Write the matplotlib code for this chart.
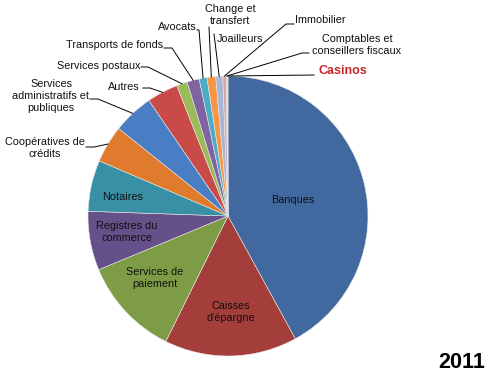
import numpy as np
import matplotlib
matplotlib.use("Agg")
import matplotlib.pyplot as plt

categories = ["Banques", "Caisses d'épargne", "Services de paiement", "Registres du commerce",
              "Notaires", "Coopératives de crédits", "Services administratifs et publiques",
              "Autres", "Services postaux", "Transports de fonds", "Avocats",
              "Change et transfert", "Joailleurs", "Immobilier",
              "Comptables et conseillers fiscaux", "Casinos"]
values = [42.0, 15.3, 11.4, 6.8, 5.9, 4.3, 4.7, 3.6, 1.25, 1.4, 0.9, 1.0, 0.8, 0.4, 0.15, 0.05]
colors = ["#4268A0", "#A33E3B", "#7E9C45", "#65508A", "#3990A6", "#E07B2E",
          "#4A7EC4", "#C84B48", "#9BBB59", "#8064A2", "#4BACC6", "#F79646",
          "#AAB5D6", "#D6A9A8", "#C3D69B", "#B3A2C7"]
year = "2011"

W, H = 499, 383
CX, CY, R = 228, 216, 140
plt.rcParams['font.family'] = ['Liberation Sans', 'DejaVu Sans']

fig = plt.figure(figsize=(W / 100, H / 100), dpi=100)
ax = fig.add_axes([(CX - R) / W, (H - CY - R) / H, 2 * R / W, 2 * R / H])
wedges, _ = ax.pie(values, colors=colors, startangle=90, counterclock=False,
                   radius=1, wedgeprops=dict(linewidth=0.4, edgecolor="#e8e8e8"))
ax.set_xlim(-1, 1)
ax.set_ylim(-1, 1)
ax.set_aspect('equal')
ax.axis('off')

def d(px, py):
    return (px - CX) / R, (CY - py) / R

fs = 7.8
ls = 1.2
inside = {
    0: ("Banques", 293, 200),
    1: ("Caisses\nd'épargne", 231, 312),
    2: ("Services de\npaiement", 155, 278),
    3: ("Registres du\ncommerce", 127, 232),
    4: ("Notaires", 123, 197),
}
for i, (txt, px, py) in inside.items():
    x, y = d(px, py)
    ax.text(x, y, txt, ha='center', va='center', fontsize=fs, color='#111111', linespacing=ls)

# outside labels: (text, text x, text y, line start, bend)
outside = {
    5: ("Coopératives de\ncrédits", 45, 148, (86, 147), (94, 147)),
    6: ("Services\nadministratifs et\npubliques", 51, 96, (90, 99), (98, 99)),
    7: ("Autres", 124, 87, (143, 88), (150, 88)),
    8: ("Services postaux", 99, 66, (141, 67), (148, 67)),
    9: ("Transports de fonds", 115, 45, (164, 48), (172, 48)),
    10: ("Avocats", 177, 27, (197, 30), (199, 30)),
    11: ("Change et\ntransfert", 230, 15, (209, 27), (209, 27)),
    12: ("Joailleurs", 240, 39, (214, 34), (214, 34)),
    13: ("Immobilier", 320, 20, (294, 24), (286, 24)),
    14: ("Comptables et\nconseillers fiscaux", 357, 45, (309, 53), (302, 53)),
}
for i, (txt, px, py, start, bend) in outside.items():
    w = wedges[i]
    ang = np.deg2rad((w.theta1 + w.theta2) / 2)
    ex, ey = np.cos(ang), np.sin(ang)
    x, y = d(px, py)
    ax.text(x, y, txt, ha='center', va='center', fontsize=fs, color='#111111', linespacing=ls)
    sx, sy = d(*start)
    bx, by = d(*bend)
    ax.plot([sx, bx, ex], [sy, by, ey], color='black', lw=0.7, clip_on=False)

# Casinos
w = wedges[15]
ang = np.deg2rad((w.theta1 + w.theta2) / 2)
ex, ey = np.cos(ang), np.sin(ang)
sx, sy = d(314, 75)
ax.plot([sx, ex], [sy, ey], color='black', lw=0.7, clip_on=False)
x, y = d(343, 71)
ax.text(x, y, "Casinos", ha='center', va='center', fontsize=9, fontweight='bold', color='#C8282A')

fig.text(462 / W, 1 - 362 / H, year, ha='center', va='center', fontsize=15.5, fontweight='bold', color='black')

fig.savefig("out.png", dpi=100)
